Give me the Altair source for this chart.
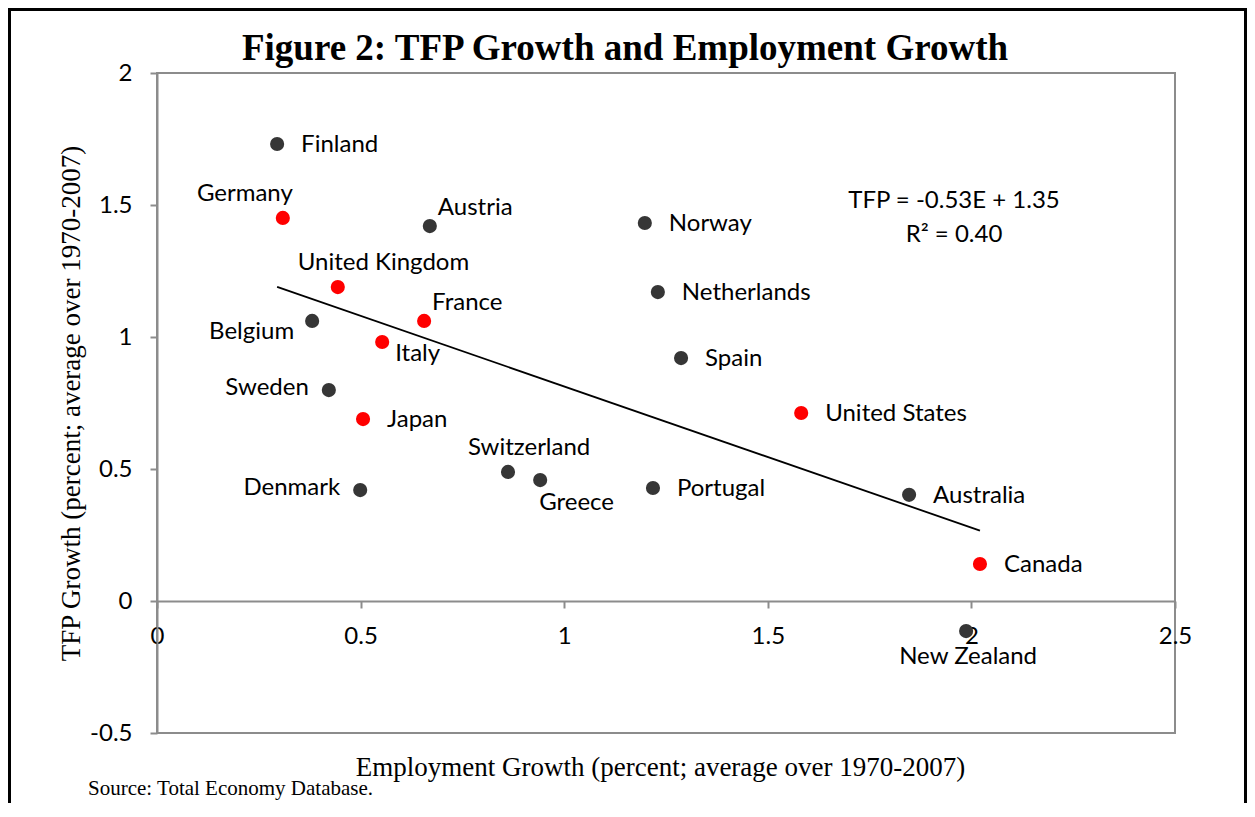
import altair as alt
import pandas as pd

# ---------------- data ----------------
countries = ["Finland", "Germany", "Austria", "Norway", "United Kingdom", "Netherlands",
             "France", "Belgium", "Italy", "Spain", "Sweden", "Japan", "United States",
             "Switzerland", "Greece", "Portugal", "Denmark", "Australia", "Canada", "New Zealand"]
emp_growth = [0.295, 0.309, 0.670, 1.198, 0.444, 1.230, 0.656, 0.381, 0.553, 1.287,
              0.422, 0.506, 1.582, 0.862, 0.941, 1.218, 0.499, 1.847, 2.021, 1.987]
tfp_growth = [1.731, 1.451, 1.420, 1.432, 1.189, 1.170, 1.061, 1.061, 0.981, 0.920,
              0.799, 0.689, 0.712, 0.489, 0.458, 0.428, 0.420, 0.402, 0.140, -0.114]
g7 = ["Germany", "United Kingdom", "France", "Italy", "Japan", "United States", "Canada"]
label_side = ["right", "above-left", "above-right", "right", "above", "right",
              "above-right", "left-low", "right-low", "right", "left", "right", "right",
              "above", "below-right", "right", "left", "right", "right", "below"]

x_ticks = [0, 0.5, 1, 1.5, 2, 2.5]
y_ticks = [-0.5, 0, 0.5, 1, 1.5, 2]

title_text = "Figure 2: TFP Growth and Employment Growth"
x_title = "Employment Growth (percent; average over 1970-2007)"
y_title = "TFP Growth (percent; average over 1970-2007)"
source_text = "Source: Total Economy Database."
equation_text = "TFP = -0.53E + 1.35\nR\u00b2 = 0.40"

df = pd.DataFrame({
    "country": countries,
    "emp": emp_growth,
    "tfp": tfp_growth,
    "group": ["G7" if c in g7 else "Other" for c in countries],
    "side": label_side,
})

# ---------------- styles ----------------
W, H = 1018, 660
SANS = "Lato"
SERIF = "Liberation Serif"
GRAY = "#8c8c8c"
LBL = 24

PLACEMENT_STYLE = {
    "right": dict(align="left", dx=24, dy=1),
    "left": dict(align="right", dx=-20, dy=-2),
    "left-low": dict(align="right", dx=-18, dy=11),
    "above": dict(align="left", dx=-40, dy=-24),
    "above-left": dict(align="right", dx=10, dy=-24),
    "above-right": dict(align="left", dx=8, dy=-18),
    "right-low": dict(align="left", dx=13, dy=12),
    "below-right": dict(align="left", dx=-1, dy=23),
    "below": dict(align="center", dx=2, dy=26),
}

x_enc = alt.X(
    "emp:Q",
    scale=alt.Scale(domain=[0, 2.5], nice=False, zero=False),
    axis=alt.Axis(
        values=x_ticks, labelExpr="toString(datum.value)", grid=False,
        offset=-132, domainColor=GRAY, domainWidth=2, tickColor=GRAY, tickWidth=2,
        tickSize=7, labelPadding=28, labelBaseline="middle", labelFlush=False,
        labelOverlap=False, labelFont=SANS, labelFontSize=LBL, labelColor="black",
        title=x_title, titleFont=SERIF, titleFontSize=27, titleFontWeight="normal",
        titleColor="black", titleX=W / 2 - 6, titleY=166, titleBaseline="middle",
        titleAlign="center",
    ),
)
y_enc = alt.Y(
    "tfp:Q",
    scale=alt.Scale(domain=[-0.5, 2], nice=False, zero=False),
    axis=alt.Axis(
        values=y_ticks, labelExpr="toString(datum.value)", grid=False,
        domainColor=GRAY, domainWidth=2, tickColor=GRAY, tickWidth=2, tickSize=7,
        labelPadding=18, labelFlush=False, labelOverlap=False, labelFont=SANS,
        labelFontSize=LBL, labelColor="black",
        title=y_title, titleFont=SERIF, titleFontSize=27, titleFontWeight="normal",
        titleColor="black", titleAngle=-90, titleX=-86, titleY=H / 2,
        titleBaseline="middle", titleAlign="center",
    ),
)

base = alt.Chart(df)

points = base.mark_circle(size=200, opacity=1).encode(
    x=x_enc, y=y_enc,
    color=alt.Color("group:N", scale=alt.Scale(domain=["Other", "G7"],
                                               range=["#363636", "#ff0000"]), legend=None),
)

trend = base.transform_regression("emp", "tfp").mark_line(
    color="black", strokeWidth=1.8
).encode(x=x_enc, y=y_enc)

labels = []
for side, st in PLACEMENT_STYLE.items():
    labels.append(
        base.transform_filter(alt.datum.side == side).mark_text(
            font=SANS, fontSize=LBL, color="black", baseline="middle", **st
        ).encode(x=x_enc, y=y_enc, text="country:N")
    )

one = pd.DataFrame({"title": [title_text], "source": [source_text], "eq": [equation_text]})
ann = alt.Chart(one)

title = ann.mark_text(font=SERIF, fontSize=37, fontWeight="bold", color="black",
                      align="center", baseline="middle").encode(
    text="title:N", x=alt.value(468), y=alt.value(-24))
source = ann.mark_text(font=SERIF, fontSize=21, color="black",
                       align="left", baseline="middle").encode(
    text="source:N", x=alt.value(-69), y=alt.value(716))
equation = ann.mark_text(font=SANS, fontSize=LBL, color="black", align="center",
                         baseline="middle", lineBreak="\n", lineHeight=34).encode(
    text="eq:N", x=alt.value(797), y=alt.value(128))
frame = ann.mark_rect(fillOpacity=0, stroke="black", strokeWidth=3).encode(
    x=alt.value(-147.5), x2=alt.value(1088.5), y=alt.value(-63.5), y2=alt.value(900))

chart = alt.layer(frame, trend, points, *labels, equation, title, source).properties(
    width=W, height=H,
    autosize=alt.AutoSizeParams(type="none"),
    padding={"left": 149, "top": 65, "right": 72, "bottom": 70},
).configure_view(stroke=GRAY, strokeWidth=2)

chart.save("out.html", embed_options={"renderer": "svg", "actions": False})
